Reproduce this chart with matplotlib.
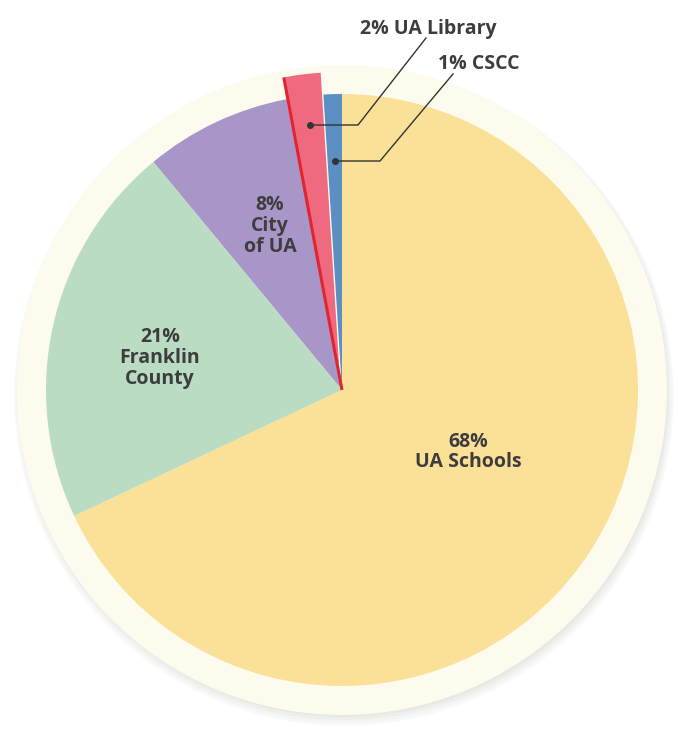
import matplotlib
matplotlib.use('Agg')
import matplotlib.pyplot as plt
from matplotlib.patches import Circle
import numpy as np

# slices, counter-clockwise from 12 o'clock
labels = ['CSCC', 'UA Library', 'City\nof UA', 'Franklin\nCounty', 'UA Schools']
shares = [1, 2, 8, 21, 68]
colors = ['#5b8ec2', '#ef6a7f', '#a896c9', '#badcc3', '#fbe097']
explode = [0, 22, 0, 0, 0]   # pie() offsets in data units (pixels here)

plt.rcParams['font.family'] = ['Open Sans', 'DejaVu Sans']
txt = '#3d3d3d'

fig = plt.figure(figsize=(6.78, 7.32), dpi=100)
ax = fig.add_axes([0, 0, 1, 1])

cx, cy, r = 342, 342, 296

# soft shadow under the cream disc
for i, a in enumerate([0.05, 0.05, 0.06, 0.07]):
    ax.add_patch(Circle((cx + 2, cy - 6 + i), 330 - i * 2, color='#9a9a8a', alpha=a, lw=0, zorder=0))
ax.add_patch(Circle((cx, cy), 325, color='#fdfbee', lw=0, zorder=1))

wedges, _ = ax.pie(shares, colors=colors, explode=explode, startangle=90,
                   counterclock=True, radius=r, center=(cx, cy),
                   wedgeprops=dict(lw=0))
for w in wedges:
    w.set_zorder(2)

# red edge along the left side of the exploded library slice
lib = wedges[1]
th = np.deg2rad(lib.theta2)
ox, oy = lib.center
ax.plot([cx, ox + r * np.cos(th)], [cy, oy + r * np.sin(th)],
        color='#e3232e', lw=2.2, zorder=3, solid_capstyle='butt')

fs = 14
ax.text(468, 732 - 452, '68%\nUA Schools', ha='center', va='center', fontsize=fs,
        fontweight='bold', color=txt, linespacing=1.05, zorder=4)
ax.text(160, 732 - 358, '21%\nFranklin\nCounty', ha='center', va='center', fontsize=fs,
        fontweight='bold', color=txt, linespacing=1.05, zorder=4)
ax.text(270, 732 - 226, '8%\nCity\nof UA', ha='center', va='center', fontsize=fs,
        fontweight='bold', color=txt, linespacing=1.05, zorder=4)

# leader lines for the thin slices
ax.plot([310, 358, 426], [732 - 125, 732 - 125, 732 - 38], color='#333333', lw=1, zorder=4)
ax.plot([310], [732 - 125], 'o', color='#333333', ms=4, zorder=5)
ax.plot([335, 380, 453], [732 - 161, 732 - 161, 732 - 74], color='#333333', lw=1, zorder=4)
ax.plot([335], [732 - 161], 'o', color='#333333', ms=4, zorder=5)
ax.text(428, 732 - 29, '2% UA Library', ha='center', va='center', fontsize=fs,
        fontweight='bold', color=txt, zorder=4)
ax.text(479, 732 - 64, '1% CSCC', ha='center', va='center', fontsize=fs,
        fontweight='bold', color=txt, zorder=4)

ax.set_xlim(0, 678)
ax.set_ylim(0, 732)
ax.set_aspect('equal')
ax.axis('off')

fig.savefig('out.png', dpi=100, facecolor='white')
